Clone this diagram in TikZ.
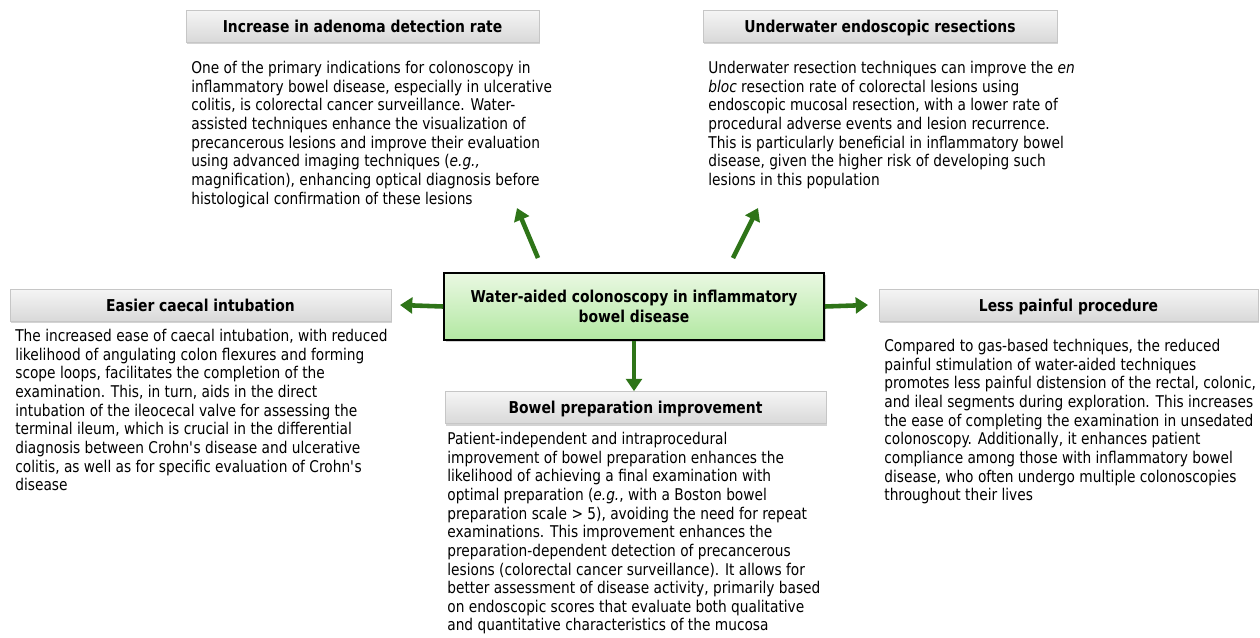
\documentclass[tikz,border=0pt]{standalone}
\usepackage{fontspec}
\setmainfont{DejaVu Sans}[FakeStretch=0.85]
\usetikzlibrary{arrows.meta,shadows}

\definecolor{arrowgreen}{HTML}{2E7418}
\definecolor{hubtop}{HTML}{EAF8E2}
\definecolor{hubbottom}{HTML}{B2E8A2}

\tikzset{
  headbox/.style={draw=gray!45, top color=gray!8, bottom color=gray!30,
    minimum height=0.64cm, inner sep=0pt, text height=8.2pt, text depth=1pt,
    font=\bfseries\fontsize{9.3}{11}\selectfont,
    drop shadow={shadow xshift=0.6pt, shadow yshift=-1.2pt, opacity=0.35}},
  bodytext/.style={anchor=north west, align=left, inner sep=0pt,
    font=\fontsize{9.2}{10.6}\selectfont},
  hubbox/.style={draw=black, line width=1pt, top color=hubtop, bottom color=hubbottom,
    minimum width=7.6cm, minimum height=1.34cm, align=center,
    font=\bfseries\fontsize{9.3}{11}\selectfont,
    drop shadow={shadow xshift=1pt, shadow yshift=-1.2pt, opacity=0.35}},
  greenarrow/.style={arrowgreen, line width=2.6pt,
    -{Triangle[length=7pt, width=9pt]}}
}

\begin{document}
\begin{tikzpicture}[x=0.02cm, y=-0.02cm]
  \useasboundingbox (0,0) rectangle (1260,637);

  % centre
  \node[hubbox] (hub) at (634,306.5) {Water-aided colonoscopy in inflammatory\\bowel disease};

  % top left
  \node[headbox, minimum width=7.06cm] (adr) at (362.5,26) {Increase in adenoma detection rate};
  \node[bodytext] (adrtxt) at (191,61) {One of the primary indications for colonoscopy in\\
    inflammatory bowel disease, especially in ulcerative\\
    colitis, is colorectal cancer surveillance. Water-\\
    assisted techniques enhance the visualization of\\
    precancerous lesions and improve their evaluation\\
    using advanced imaging techniques (\textit{e.g.,}\\
    magnification), enhancing optical diagnosis before\\
    histological confirmation of these lesions};

  % top right
  \node[headbox, minimum width=7.08cm] (uwr) at (880,26) {Underwater endoscopic resections};
  \node[bodytext] (uwrtxt) at (708,61) {Underwater resection techniques can improve the \textit{en}\\
    \textit{bloc} resection rate of colorectal lesions using\\
    endoscopic mucosal resection, with a lower rate of\\
    procedural adverse events and lesion recurrence.\\
    This is particularly beneficial in inflammatory bowel\\
    disease, given the higher risk of developing such\\
    lesions in this population};

  % left
  \node[headbox, minimum width=7.62cm] (cae) at (200.5,305) {Easier caecal intubation};
  \node[bodytext] (caetxt) at (15,329) {The increased ease of caecal intubation, with reduced\\
    likelihood of angulating colon flexures and forming\\
    scope loops, facilitates the completion of the\\
    examination. This, in turn, aids in the direct\\
    intubation of the ileocecal valve for assessing the\\
    terminal ileum, which is crucial in the differential\\
    diagnosis between Crohn\textquotesingle s disease and ulcerative\\
    colitis, as well as for specific evaluation of Crohn\textquotesingle s\\
    disease};

  % right
  \node[headbox, minimum width=7.58cm] (pain) at (1068.5,305) {Less painful procedure};
  \node[bodytext] (paintxt) at (884,339) {Compared to gas-based techniques, the reduced\\
    painful stimulation of water-aided techniques\\
    promotes less painful distension of the rectal, colonic,\\
    and ileal segments during exploration. This increases\\
    the ease of completing the examination in unsedated\\
    colonoscopy. Additionally, it enhances patient\\
    compliance among those with inflammatory bowel\\
    disease, who often undergo multiple colonoscopies\\
    throughout their lives};

  % bottom
  \node[headbox, minimum width=7.62cm] (prep) at (635.5,407.5) {Bowel preparation improvement};
  \node[bodytext] (preptxt) at (447,432) {Patient-independent and intraprocedural\\
    improvement of bowel preparation enhances the\\
    likelihood of achieving a final examination with\\
    optimal preparation (\textit{e.g.}, with a Boston bowel\\
    preparation scale > 5), avoiding the need for repeat\\
    examinations. This improvement enhances the\\
    preparation-dependent detection of precancerous\\
    lesions (colorectal cancer surveillance). It allows for\\
    better assessment of disease activity, primarily based\\
    on endoscopic scores that evaluate both qualitative\\
    and quantitative characteristics of the mucosa};

  % arrows
  \coordinate (ulfoot) at (538,258);
  \coordinate (ultip) at (517,208);
  \coordinate (urfoot) at (733,258);
  \coordinate (urtip) at (758,208);
  \draw[greenarrow] (ulfoot) -- (ultip);
  \draw[greenarrow] (urfoot) -- (urtip);
  \draw[greenarrow] (hub.west) -- (cae.east -| 400,0);
  \draw[greenarrow] (hub.east) -- (pain.west -| 868,0);
  \draw[greenarrow] (hub.south) -- (prep.north -| hub.south);
\end{tikzpicture}
\end{document}
